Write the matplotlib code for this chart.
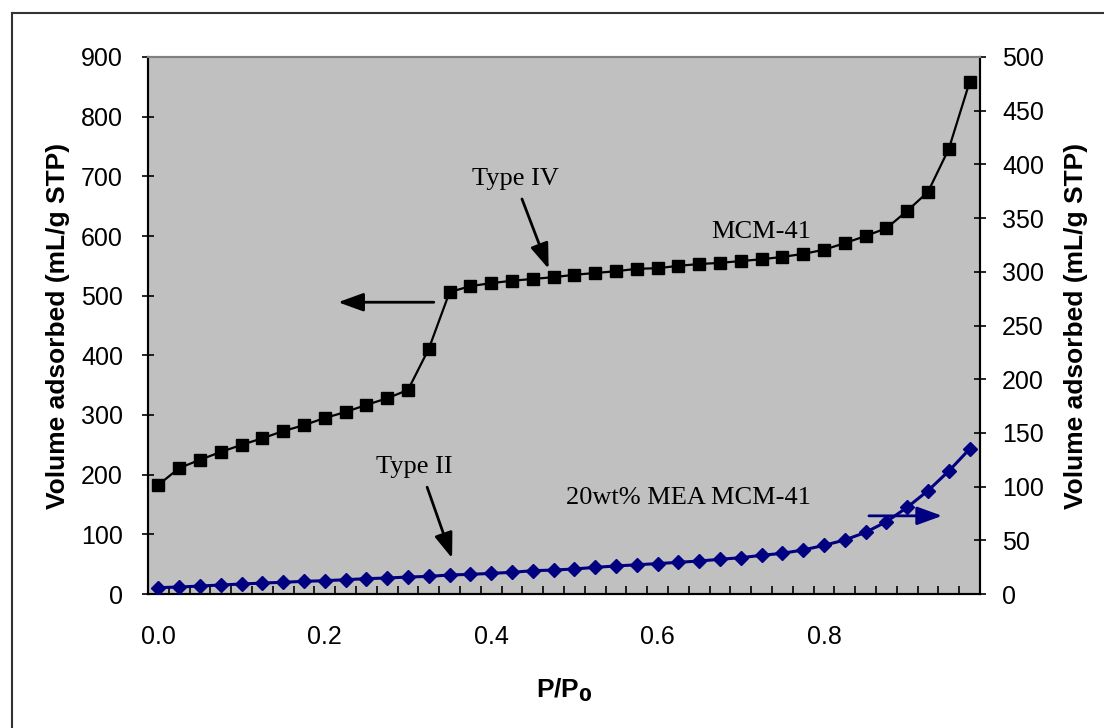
import matplotlib.pyplot as plt
from matplotlib.ticker import FixedLocator, FixedFormatter
import matplotlib.lines as mlines

# relative pressure, 40 points
p_rel = [i * 0.025 for i in range(40)]

# MCM-41 (left axis, mL/g STP)
mcm41 = [183, 211, 225, 238, 250, 261, 273, 283, 295, 305,
         317, 328, 342, 411, 506, 516, 521, 525, 528, 531,
         535, 538, 541, 545, 546, 550, 553, 555, 558, 561,
         565, 570, 577, 588, 600, 613, 642, 674, 746, 858]

# 20wt% MEA MCM-41 (right axis, mL/g STP)
mea_mcm41 = [5.9, 6.5, 7.4, 8.4, 9.3, 10.2, 10.9, 11.8, 12.4, 13.3,
             14.3, 14.9, 15.8, 16.4, 17.7, 18.3, 19.2, 20.2, 21.7, 22.3,
             23.3, 24.8, 26.1, 27.2, 28.3, 29.5, 30.7, 32.3, 33.8, 36.0,
             37.9, 41.0, 45.3, 50.3, 57.4, 67.3, 80.7, 96.2, 114.5, 135.0]

x_ticks = [0.0, 0.2, 0.4, 0.6, 0.8]
x_labels = ['0.0', '0.2', '0.4', '0.6', '0.8']

plt.rcParams['font.family'] = 'Liberation Sans'

fig = plt.figure(figsize=(11.04, 7.28), dpi=100)
ax = fig.add_axes([148 / 1104, 134 / 728, 832 / 1104, 537 / 728])
ax2 = ax.twinx()

ax.set_facecolor('#C0C0C0')
ax.set_xlim(-0.0125, 0.9875)
ax.set_ylim(0, 900)
ax2.set_ylim(0, 500)

ax.plot(p_rel, mcm41, color='black', linewidth=1.6, marker='s',
        markersize=8.5, zorder=3)
ax2.plot(p_rel, mea_mcm41, color='#000080', linewidth=2.2, marker='D',
         markersize=7, zorder=3)

# ticks
ax.xaxis.set_major_locator(FixedLocator(x_ticks))
ax.xaxis.set_major_formatter(FixedFormatter(x_labels))
ax.xaxis.set_minor_locator(FixedLocator([-0.0125 + k * 0.025 for k in range(1, 40)]))
ax.tick_params(axis='x', which='major', length=0, pad=22, labelsize=18)
ax.tick_params(axis='x', which='minor', direction='in', length=5.5,
               width=1.2, color='black')
ax.set_yticks(range(0, 901, 100))
ax.tick_params(axis='y', direction='inout', length=8, width=1.2,
               pad=14, labelsize=18)
ax2.set_yticks(range(0, 501, 50))
ax2.tick_params(axis='y', direction='inout', length=8, width=1.2,
                pad=12, labelsize=18)

for a in (ax, ax2):
    a.spines['top'].set_color('#808080')
    a.spines['top'].set_linewidth(1.5)
    for s in ('left', 'right', 'bottom'):
        a.spines[s].set_linewidth(1.5)
        a.spines[s].set_color('black')

ax.set_ylabel('Volume adsorbed (mL/g STP)', fontsize=19, fontweight='bold',
              labelpad=8)
ax2.set_ylabel('Volume adsorbed (mL/g STP)', fontsize=19, fontweight='bold',
               rotation=90, labelpad=14)
ax.set_xlabel('P/P$_\\mathbf{0}$', fontsize=19, fontweight='bold', labelpad=20)

# annotations
serif = dict(family='Liberation Serif', fontsize=19, ha='center', va='center')
ax.text(0.429, 696, 'Type IV', **serif, zorder=4)
ax.text(0.724, 607, 'MCM-41', **serif, zorder=4)
ax.text(0.308, 213, 'Type II', **serif, zorder=4)
ax.text(0.637, 161, '20wt% MEA MCM-41', **serif, zorder=4)

arrow = dict(arrowstyle='-|>,head_length=0.55,head_width=0.2', color='black',
             lw=2, mutation_scale=28, shrinkA=0, shrinkB=0)
ax.annotate('', xy=(0.469, 545), xytext=(0.437, 662), arrowprops=arrow, zorder=4)
ax.annotate('', xy=(0.353, 60), xytext=(0.323, 179), arrowprops=arrow, zorder=4)
ax.annotate('', xy=(0.216, 489), xytext=(0.331, 489), arrowprops=arrow, zorder=4)
blue_arrow = dict(arrow, color='#000080')
ax.annotate('', xy=(0.942, 131), xytext=(0.854, 131), arrowprops=blue_arrow,
            zorder=4)

# frame lines (top and left only)
fig.add_artist(mlines.Line2D([12 / 1104, 1.0], [1 - 13 / 728, 1 - 13 / 728],
                             color='#333333', linewidth=1.5))
fig.add_artist(mlines.Line2D([12 / 1104, 12 / 1104], [0.0, 1 - 13 / 728],
                             color='#333333', linewidth=1.5))

fig.savefig('out.png', dpi=100)
